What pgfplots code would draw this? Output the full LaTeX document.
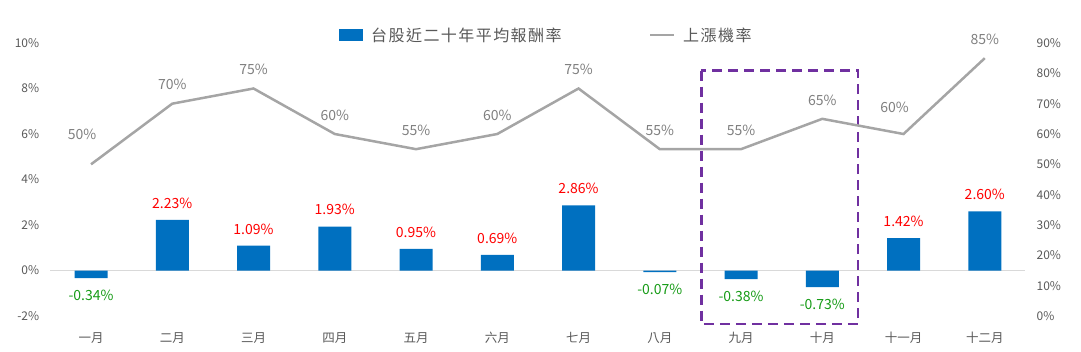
\documentclass[border=0pt]{standalone}
\usepackage{pgfplots}
\pgfplotsset{compat=1.18}
\usepackage{pgfplotstable}
\usepackage{fontspec}
\setmainfont{Noto Sans CJK TC}
\definecolor{barblue}{HTML}{0070C0}
\definecolor{linegray}{HTML}{A5A5A5}
\definecolor{lblgray}{HTML}{7F7F7F}
\definecolor{tickgray}{HTML}{595959}
\definecolor{posred}{HTML}{FF0000}
\definecolor{neggreen}{HTML}{169B16}
\definecolor{boxpurple}{HTML}{7030A0}
\definecolor{zerogray}{HTML}{D9D9D9}

\pgfplotstableread{
x ret
1 2.23
2 1.09
3 1.93
4 0.95
5 0.69
6 2.86
10 1.42
11 2.60
}\postable
\pgfplotstableread{
x ret
0 -0.34
7 -0.07
8 -0.38
9 -0.73
}\negtable
\pgfplotstableread{
x p dx dy
0 50 -9 20
1 70 0 9
2 75 0 9
3 60 0 9
4 55 0 9
5 60 0 9
6 75 0 9
7 55 0 9
8 55 0 9
9 65 0 9
10 60 -9 17
11 85 0 9
}\probtable

\pgfplotsset{
  common/.style={
    scale only axis, width=975bp, height=273bp,
    at={(0,0)}, anchor=south west,
    xmin=-0.5, xmax=11.5,
    axis line style={draw=none},
    major tick length=0pt,
    tick label style={font=\fontsize{12bp}{14bp}\selectfont, color=tickgray},
    clip=false,
  },
}

\begin{document}
\begin{tikzpicture}
\useasboundingbox (-50.4bp,-36bp) rectangle (1030.6bp,316bp);
\begin{axis}[common,
  ybar, bar width=33bp,
  ymin=-2, ymax=10,
  ytick={-2,0,...,10},
  yticklabel={\pgfmathprintnumber[assume math mode=true]{\tick}\%},
  yticklabel style={anchor=east, inner sep=0pt, xshift=-11bp},
  xtick={0,...,11},
  xticklabels={一月,二月,三月,四月,五月,六月,七月,八月,九月,十月,十一月,十二月},
  xticklabel style={font=\fontsize{12.5bp}{14bp}\selectfont, color=tickgray, anchor=north, inner sep=0pt, yshift=-16bp},
  nodes near coords={\pgfmathprintnumber[assume math mode=true, fixed, fixed zerofill, precision=2]{\pgfplotspointmeta}\%},
  nodes near coords style={font=\fontsize{14bp}{16bp}\selectfont},
]
\draw[zerogray, line width=1bp] (axis cs:-0.5,0) -- (axis cs:11.5,0);
\addplot[fill=barblue, draw=none, bar shift=0pt,
  every node near coord/.append style={text=posred, yshift=8bp}]
  table[x=x, y=ret] {\postable};
\addplot[fill=barblue, draw=none, bar shift=0pt,
  every node near coord/.append style={text=neggreen, yshift=-8bp}]
  table[x=x, y=ret] {\negtable};
\draw[boxpurple, line width=2.8bp, dash pattern=on 10bp off 6bp]
  (axis cs:7.51,8.79) rectangle (axis cs:9.44,-2.35);
\end{axis}
\begin{axis}[common,
  ymin=0, ymax=90,
  ytick={0,10,...,90},
  xtick=\empty,
  axis y line*=right,
  yticklabel={\pgfmathprintnumber[assume math mode=true]{\tick}\%},
  yticklabel style={anchor=west, inner sep=0pt, xshift=11bp},
]
\addplot[linegray, line width=2.5bp, mark=none,
  visualization depends on={\thisrow{dx}\as\dx},
  visualization depends on={\thisrow{dy}\as\dy},
  nodes near coords={\pgfmathprintnumber[assume math mode=true]{\pgfplotspointmeta}\%},
  nodes near coords style={font=\fontsize{14bp}{16bp}\selectfont, text=lblgray, anchor=south, xshift=\dx*1bp, yshift=\dy*1bp},
  point meta=y]
  table[x=x, y=p] {\probtable};
\end{axis}
% legend
\fill[barblue] (288.6bp,275bp) rectangle (312.6bp,287bp);
\node[anchor=west, inner sep=0pt, text=tickgray, font=\fontsize{16bp}{18bp}\selectfont\addfontfeature{LetterSpace=9}] at (320.6bp,281bp) {台股近二十年平均報酬率};
\draw[linegray, line width=2.5bp] (599.6bp,281bp) -- (623.6bp,281bp);
\node[anchor=west, inner sep=0pt, text=tickgray, font=\fontsize{16bp}{18bp}\selectfont\addfontfeature{LetterSpace=9}] at (632.6bp,281bp) {上漲機率};
\end{tikzpicture}
\end{document}
